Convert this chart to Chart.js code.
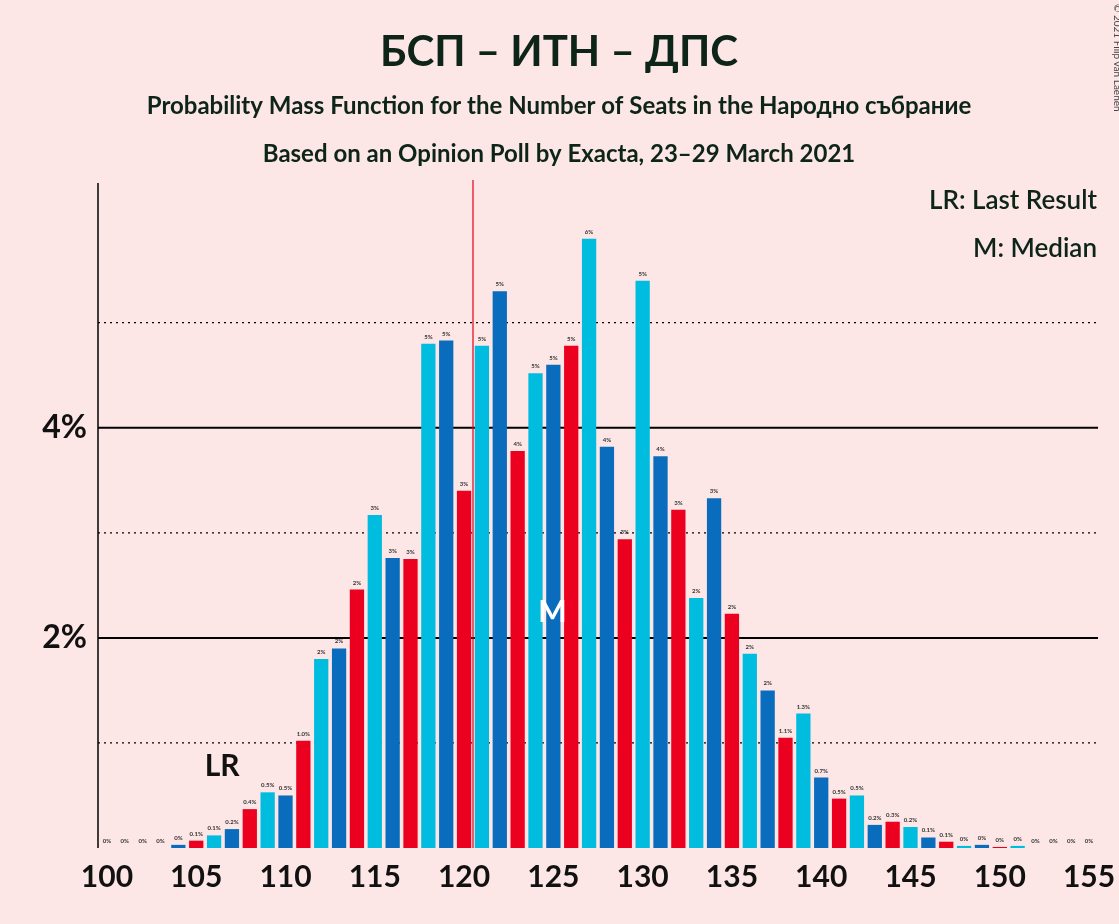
<!DOCTYPE html>
<html>
<head>
<meta charset="utf-8">
<script src="https://cdn.jsdelivr.net/npm/chart.js@4"></script>
<style>
  body { margin: 0; background: #fde6e6; }
  canvas { display: block; }
</style>
</head>
<body>
<canvas id="pmf" width="1119" height="924"></canvas>
<script>
const seats = [];
for (let s = 100; s <= 155; s++) seats.push(s);
const probs = [0, 0, 0, 0, 0.03, 0.07, 0.12, 0.18, 0.37, 0.53, 0.5, 1.02, 1.8, 1.9, 2.46, 3.17, 2.76, 2.75,
  4.8, 4.83, 3.4, 4.78, 5.3, 3.78, 4.52, 4.6, 4.78, 5.8, 3.82, 2.94, 5.4, 3.73, 3.22, 2.38, 3.33, 2.23,
  1.85, 1.5, 1.05, 1.28, 0.67, 0.47, 0.5, 0.22, 0.25, 0.2, 0.1, 0.06, 0.02, 0.03, 0.01, 0.02, 0, 0, 0, 0];
const barLabels = ['0%', '0%', '0%', '0%', '0%', '0.1%', '0.1%', '0.2%', '0.4%', '0.5%', '0.5%', '1.0%', '2%', '2%', '2%', '3%', '3%', '3%',
  '5%', '5%', '3%', '5%', '5%', '4%', '5%', '5%', '5%', '6%', '4%', '3%', '5%', '4%', '3%', '2%', '3%', '2%',
  '2%', '2%', '1.1%', '1.3%', '0.7%', '0.5%', '0.5%', '0.2%', '0.3%', '0.2%', '0.1%', '0.1%', '0%', '0%', '0%', '0%', '0%', '0%', '0%', '0%'];
const lastResult = 106;
const median = 125;
const majority = 120.5;
const palette = ['#00bde0', '#0a6cbd', '#ec0020'];

const colors = seats.map(s => palette[((s - 112) % 3 + 3) % 3]);

const overlay = {
  id: 'overlay',
  beforeDatasetsDraw(chart) {
    const ctx = chart.ctx, y = chart.scales.y, a = chart.chartArea;
    ctx.save();
    [1, 2, 3, 4, 5].forEach(v => {
      const py = y.getPixelForValue(v);
      ctx.beginPath();
      ctx.strokeStyle = '#000';
      if (v % 2 === 0) { ctx.lineWidth = 2; ctx.setLineDash([]); }
      else { ctx.lineWidth = 1.2; ctx.setLineDash([2, 4]); }
      ctx.moveTo(a.left, py); ctx.lineTo(a.right, py); ctx.stroke();
    });
    ctx.restore();
  },
  afterDatasetsDraw(chart) {
    const ctx = chart.ctx, x = chart.scales.x, y = chart.scales.y, a = chart.chartArea;
    const meta = chart.getDatasetMeta(0);
    ctx.save();
    ctx.fillStyle = '#333';
    ctx.font = 'bold 6px Lato';
    ctx.textAlign = 'center';
    meta.data.forEach((el, i) => ctx.fillText(barLabels[i], el.x, el.y - 5));
    // majority line
    const i0 = seats.indexOf(Math.floor(majority));
    const mx = (x.getPixelForValue(i0) + x.getPixelForValue(i0 + 1)) / 2;
    ctx.strokeStyle = '#e0001a'; ctx.lineWidth = 1.2;
    ctx.beginPath(); ctx.moveTo(mx, a.top - 3); ctx.lineTo(mx, a.bottom); ctx.stroke();
    // LR
    const lr = meta.data[seats.indexOf(lastResult)];
    ctx.fillStyle = '#111'; ctx.font = 'bold 30px Lato';
    ctx.textBaseline = 'alphabetic';
    ctx.fillText('LR', lr.x + 8, 776);
    // M
    const md = meta.data[seats.indexOf(median)];
    ctx.fillStyle = '#fff'; ctx.font = 'bold 30px Lato';
    ctx.fillText('M', md.x - 1, 622);
    // axis line
    ctx.strokeStyle = '#000'; ctx.lineWidth = 1.5;
    ctx.beginPath(); ctx.moveTo(a.left, a.top); ctx.lineTo(a.left, a.bottom); ctx.stroke();
    // titles
    ctx.fillStyle = '#0d2418'; ctx.textAlign = 'center';
    ctx.font = 'bold 42px Lato'; ctx.fillText('БСП – ИТН – ДПС', 559, 66);
    ctx.font = 'bold 24px Lato';
    ctx.fillText('Probability Mass Function for the Number of Seats in the Народно събрание', 559, 114);
    ctx.fillText('Based on an Opinion Poll by Exacta, 23–29 March 2021', 559, 162);
    ctx.textAlign = 'right'; ctx.font = '600 26px Lato';
    ctx.fillText('LR: Last Result', 1097, 209);
    ctx.fillText('M: Median', 1097, 257);
    ctx.translate(1114, 4); ctx.rotate(Math.PI / 2);
    ctx.textAlign = 'left'; ctx.font = '10px Lato'; ctx.fillStyle = '#444';
    ctx.fillText('© 2021 Filip van Laenen', 0, 0);
    ctx.restore();
  }
};

new Chart(document.getElementById('pmf'), {
  type: 'bar',
  data: {
    labels: seats,
    datasets: [{ data: probs, backgroundColor: colors, barPercentage: 0.8, categoryPercentage: 1 }]
  },
  options: {
    responsive: false,
    animation: false,
    layout: { padding: { top: 183, right: 21, left: 0, bottom: 0 } },
    plugins: { legend: { display: false }, tooltip: { enabled: false } },
    scales: {
      x: {
        grid: { display: false },
        border: { display: false },
        afterFit(s) { s.height = 76; },
        ticks: {
          autoSkip: false, maxRotation: 0, color: '#111',
          font: { family: 'Lato', size: 30, weight: 'bold' },
          callback: (v, i) => seats[i] % 5 === 0 ? String(seats[i]) : ''
        }
      },
      y: {
        min: 0, max: 6.33,
        grid: { display: false },
        border: { display: false },
        afterFit(s) { s.width = 98; },
        afterBuildTicks(s) { s.ticks = [{ value: 2 }, { value: 4 }]; },
        ticks: {
          color: '#111',
          font: { family: 'Lato', size: 32, weight: 'bold' },
          callback: v => v + '%'
        }
      }
    }
  },
  plugins: [overlay]
});
</script>
</body>
</html>
